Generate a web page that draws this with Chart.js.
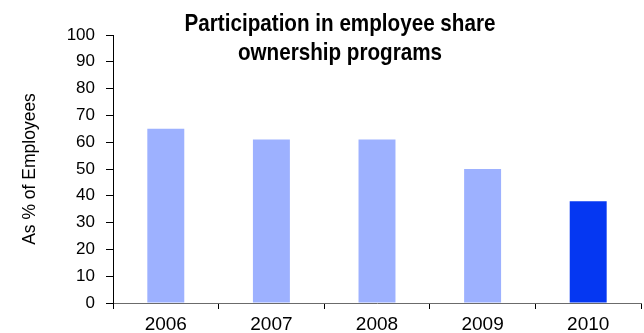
<!DOCTYPE html>
<html>
<head>
<meta charset="utf-8">
<script src="https://cdn.jsdelivr.net/npm/chart.js@4/dist/chart.umd.min.js"></script>
<style>
  html, body { margin: 0; padding: 0; background: #fff; }
  #wrap { width: 644px; height: 333px; }
</style>
</head>
<body>
<div id="wrap"><canvas id="shareChart" width="644" height="333"></canvas></div>
<script>
const years = ["2006", "2007", "2008", "2009", "2010"];
const participation = [65, 61, 61, 50, 38];
const barColors = ["#9db1ff", "#9db1ff", "#9db1ff", "#9db1ff", "#0537f2"];
const titleLines = ["Participation in employee share", "ownership programs"];
const yAxisLabel = "As % of Employees";

const FONT = '"Liberation Sans", Arial, Helvetica, sans-serif';

// two-line bold title drawn over the top of the plot, slightly condensed
const titlePlugin = {
    id: "overlayTitle",
    afterDraw(chart) {
        const ctx = chart.ctx;
        const cx = 340;
        const squeeze = 0.86;
        ctx.save();
        ctx.fillStyle = "#000";
        ctx.font = "bold 24px " + FONT;
        ctx.textAlign = "center";
        ctx.textBaseline = "alphabetic";
        ctx.translate(cx, 0);
        ctx.scale(squeeze, 1);
        ctx.fillText(titleLines[0], 0, 31);
        ctx.fillText(titleLines[1], 0, 60);
        ctx.restore();
    },
};

const ctx = document.getElementById("shareChart").getContext("2d");
const shareChart = new Chart(ctx, {
    type: "bar",
    data: {
        labels: years,
        datasets: [
            {
                data: participation,
                backgroundColor: barColors,
                borderWidth: 0,
                categoryPercentage: 1,
                barPercentage: 0.35,
            },
        ],
    },
    options: {
        responsive: false,
        animation: false,
        layout: { padding: { top: 35, right: 3, left: 0, bottom: 0 } },
        plugins: {
            legend: { display: false },
            tooltip: { enabled: false },
        },
        scales: {
            x: {
                offset: true,
                border: { color: "#6b6b6b", width: 1 },
                grid: {
                    offset: true,
                    drawOnChartArea: false,
                    color: "#000",
                    tickLength: 6,
                },
                ticks: {
                    color: "#000",
                    padding: 4,
                    font: { family: FONT, size: 19 },
                },
                afterFit(scale) {
                    scale.height = 30;
                },
            },
            y: {
                min: 0,
                max: 100,
                border: { color: "#000", width: 1 },
                grid: {
                    drawOnChartArea: false,
                    color: "#000",
                    tickLength: 7,
                },
                ticks: {
                    stepSize: 10,
                    color: "#000",
                    padding: 11,
                    font: { family: FONT, size: 17 },
                },
                title: {
                    display: true,
                    text: yAxisLabel,
                    color: "#000",
                    padding: { top: 20, bottom: 0 },
                    font: { family: FONT, size: 17.5 },
                },
                afterFit(scale) {
                    scale.width = 113;
                },
            },
        },
    },
    plugins: [titlePlugin],
});
</script>
</body>
</html>
